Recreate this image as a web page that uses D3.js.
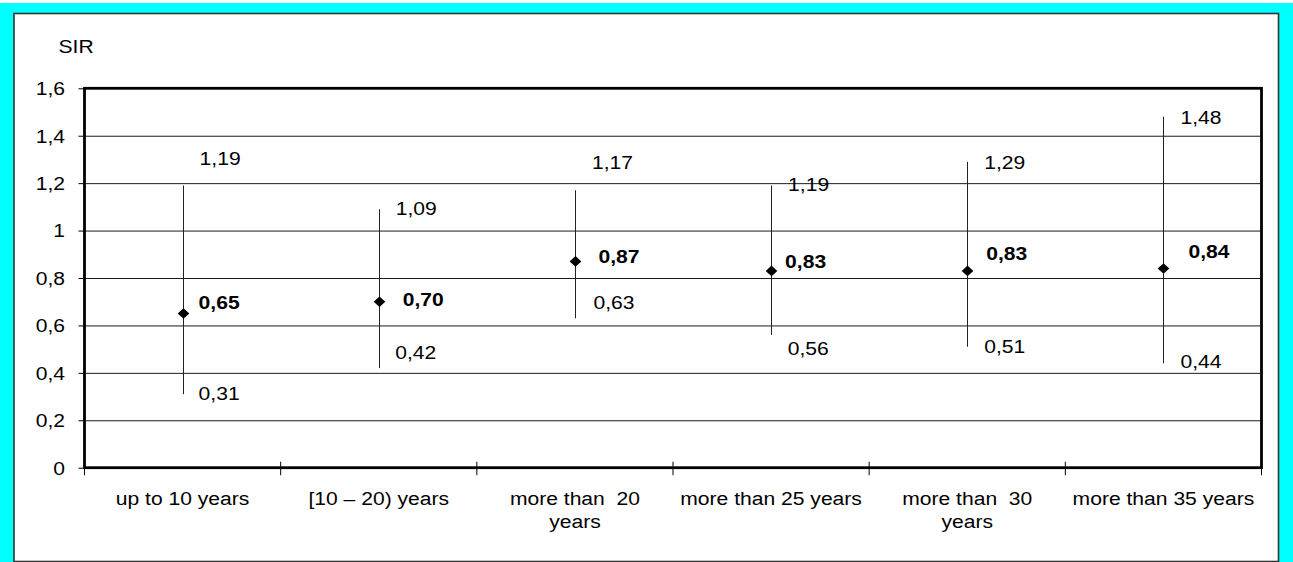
<!DOCTYPE html>
<html>
<head>
<meta charset="utf-8">
<script src="https://cdn.jsdelivr.net/npm/d3@7"></script>
<style>
  html, body { margin: 0; padding: 0; background: #fff; overflow: hidden; }
  text { font-family: "Liberation Sans", Arial, sans-serif; fill: #000; white-space: pre; }
</style>
</head>
<body>
<svg id="chart" width="1293" height="562"></svg>
<script>
// ---- data ----
const categories = ["up to 10 years", "[10 – 20) years", "more than  20 years",
                    "more than 25 years", "more than  30 years", "more than 35 years"];
const sirEstimate = [0.65, 0.70, 0.87, 0.83, 0.83, 0.84];
const ciLower     = [0.31, 0.42, 0.63, 0.56, 0.51, 0.44];
const ciUpper     = [1.19, 1.09, 1.17, 1.19, 1.29, 1.48];
const yTicks      = [0, 0.2, 0.4, 0.6, 0.8, 1, 1.2, 1.4, 1.6];
const yAxisTitle  = "SIR";

// ---- label placement nudges (px: dx from whisker, dy from value position) ----
const upperNudge = [[17, -27], [17, -1], [17, -28], [17, -1], [17, 0], [17, 0]];
const estNudge   = [[16, -11], [24, -3], [23.5, -5], [14, -10], [19, -18], [25, -17]];
const lowerNudge = [[16, -1], [16.5, -16], [18.5, -16.5], [16.7, 13.5], [17, -1], [17, -2]];

// ---- layout ----
const W = 1293, H = 562;
const FS = 19;            // font size
const SX = 1.11;          // horizontal text stretch
const plot = { left: 84.5, top: 88.3, right: 1261.5, bottom: 467.7 };

const svg = d3.select("#chart");

// outer frame
svg.append("rect").attr("x", 0).attr("y", 3).attr("width", W).attr("height", H - 3)
  .attr("fill", "#00ffff");
svg.append("rect").attr("x", 14).attr("y", 13.5).attr("width", 1264.5).attr("height", 548)
  .attr("fill", "#fff").attr("stroke", "#333").attr("stroke-width", 1.6);

const x = d3.scaleBand().domain(categories).range([plot.left, plot.right]).padding(0);
const y = d3.scaleLinear().domain([0, 1.6]).range([plot.bottom, plot.top]);
const fmt2 = v => d3.format(".2f")(v).replace(".", ",");
const fmtTick = v => d3.format("~g")(v).replace(".", ",");

function stretchedText(g, px, py, str, anchor, weight) {
  return g.append("text")
    .attr("transform", `translate(${px},${py}) scale(${SX},1)`)
    .attr("text-anchor", anchor || "start")
    .attr("font-size", FS)
    .attr("font-weight", weight || "normal")
    .text(str);
}

// y ticks via the axis generator
const yAxisG = svg.append("g")
  .attr("transform", `translate(${plot.left},0)`)
  .call(d3.axisLeft(y).tickValues(yTicks).tickSize(6).tickFormat(""));
yAxisG.select(".domain").remove();
yAxisG.selectAll(".tick line").attr("stroke", "#000").attr("stroke-width", 1);

// horizontal gridlines
const gridG = svg.append("g")
  .attr("transform", `translate(${plot.left},0)`)
  .call(d3.axisLeft(y).tickValues(yTicks.filter(v => v > 0 && v < 1.6))
        .tickSize(-(plot.right - plot.left)).tickFormat(""));
gridG.select(".domain").remove();
gridG.selectAll(".tick line").attr("stroke", "#1a1a1a").attr("stroke-width", 1);

// y tick labels and axis title
const labG = svg.append("g");
yTicks.forEach(v => stretchedText(labG, 65, y(v) + 0.358 * FS, fmtTick(v), "end"));
stretchedText(labG, 58.5, 52.8, yAxisTitle, "start");

// category boundary ticks
const bounds = categories.map(c => x(c)).concat([x(categories[categories.length - 1]) + x.bandwidth()]);
svg.append("g").selectAll("line").data(bounds).join("line")
  .attr("x1", d => d).attr("x2", d => d)
  .attr("y1", plot.bottom - 6).attr("y2", plot.bottom + 7.5)
  .attr("stroke", "#000").attr("stroke-width", 1);

// plot frame
svg.append("rect")
  .attr("x", plot.left).attr("y", plot.top)
  .attr("width", plot.right - plot.left).attr("height", plot.bottom - plot.top)
  .attr("fill", "none").attr("stroke", "#000").attr("stroke-width", 2.8);

// category labels with wrapping
const catG = svg.append("g");
const maxW = 185;
categories.forEach(c => {
  const ccx = x(c) + x.bandwidth() / 2;
  const words = c.split(" ");
  const lines = [];
  let cur = "";
  words.forEach(wd => {
    const trial = cur === "" ? wd : cur + " " + wd;
    const t = stretchedText(catG, -1000, -1000, trial, "middle");
    const w = t.node().getComputedTextLength() * SX;
    t.remove();
    if (w > maxW && cur !== "") { lines.push(cur); cur = wd; }
    else cur = trial;
  });
  lines.push(cur);
  lines.forEach((ln, i) => stretchedText(catG, ccx, 504.8 + i * 23, ln, "middle"));
});

// whiskers (confidence intervals)
const cx = i => x(categories[i]) + x.bandwidth() / 2;
svg.append("g").selectAll("line").data(categories).join("line")
  .attr("x1", (d, i) => Math.round(cx(i)) + 0.5).attr("x2", (d, i) => Math.round(cx(i)) + 0.5)
  .attr("y1", (d, i) => y(ciUpper[i])).attr("y2", (d, i) => y(ciLower[i]))
  .attr("stroke", "#222").attr("stroke-width", 1);

// point estimates as diamonds
const diamond = d3.symbol().type(d3.symbolSquare).size(56);
svg.append("g").selectAll("path").data(sirEstimate).join("path")
  .attr("d", diamond)
  .attr("transform", (d, i) => `translate(${Math.round(cx(i)) + 0.5},${y(d)}) scale(1.1,1) rotate(45)`)
  .attr("fill", "#000");

// value labels
const valG = svg.append("g");
const cy = 0.358 * FS;
categories.forEach((c, i) => {
  const px = cx(i);
  stretchedText(valG, px + upperNudge[i][0], y(ciUpper[i]) + upperNudge[i][1] + cy, fmt2(ciUpper[i]));
  stretchedText(valG, px + estNudge[i][0], y(sirEstimate[i]) + estNudge[i][1] + cy, fmt2(sirEstimate[i]), "start", "bold");
  stretchedText(valG, px + lowerNudge[i][0], y(ciLower[i]) + lowerNudge[i][1] + cy, fmt2(ciLower[i]));
});
</script>
</body>
</html>
